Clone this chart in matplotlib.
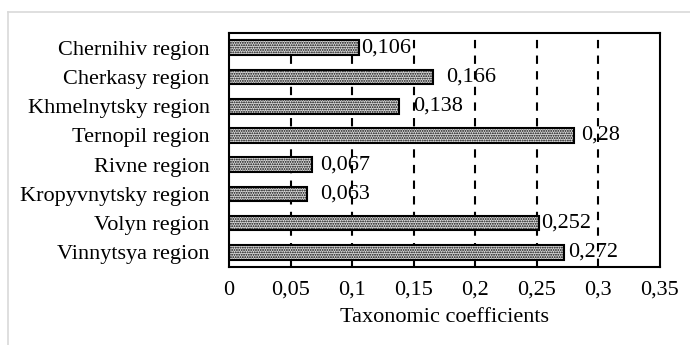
import matplotlib
matplotlib.use("Agg")
import matplotlib.pyplot as plt
from matplotlib.lines import Line2D

regions = ["Vinnytsya region", "Volyn region", "Kropyvnytsky region", "Rivne region",
           "Ternopil region", "Khmelnytsky region", "Cherkasy region", "Chernihiv region"]
values = [0.272, 0.252, 0.063, 0.067, 0.28, 0.138, 0.166, 0.106]
value_labels = ["0,272", "0,252", "0,063", "0,067", "0,28", "0,138", "0,166", "0,106"]
xticks = [0, 0.05, 0.1, 0.15, 0.2, 0.25, 0.3, 0.35]
xtick_labels = ["0", "0,05", "0,1", "0,15", "0,2", "0,25", "0,3", "0,35"]
label_offsets_px = [4, 2, 14, 9, 8, 14, 13, 2]

plt.rcParams['font.family'] = ['Liberation Serif', 'DejaVu Serif']
plt.rcParams['hatch.linewidth'] = 0.9
plt.rcParams['hatch.color'] = '#333333'

FS = 16

fig = plt.figure(figsize=(6.9, 3.45), dpi=100)
ax = fig.add_axes([0.332, 0.226, 0.624, 0.678])

ypos = list(range(len(regions)))
ax.barh(ypos, values, height=0.5, color='#dcdcdc', edgecolor='black',
        linewidth=1.5, hatch='.......', zorder=2)

for x in xticks[1:-1]:
    ax.axvline(x, color='black', lw=1.5, ls=(0, (4, 3.5)), zorder=1)

ax.set_xlim(0, 0.35)
ax.set_ylim(-0.5, len(regions) - 0.5)
ax.set_yticks(ypos)
ax.set_yticklabels(regions, fontsize=FS)
ax.set_xticks(xticks)
ax.set_xticklabels(xtick_labels, fontsize=FS)
ax.tick_params(length=0)
ax.tick_params(axis='y', pad=14)
ax.tick_params(axis='x', pad=10)
ax.set_xlabel("Taxonomic coefficients", fontsize=FS, labelpad=6)
for s in ax.spines.values():
    s.set_linewidth(1.5)
    s.set_color('black')

for y, v, lab, off in zip(ypos, values, value_labels, label_offsets_px):
    ax.annotate(lab, (v, y), xytext=(off * 0.72, 0), textcoords='offset points',
                va='center', ha='left', fontsize=FS, zorder=3)

fig.add_artist(Line2D([8/690, 8/690], [0, 1 - 12/345], transform=fig.transFigure,
                      color='#d9d9d9', lw=1.2))
fig.add_artist(Line2D([8/690, 1], [1 - 12/345, 1 - 12/345], transform=fig.transFigure,
                      color='#d9d9d9', lw=1.2))

fig.savefig("out.png", dpi=100)
